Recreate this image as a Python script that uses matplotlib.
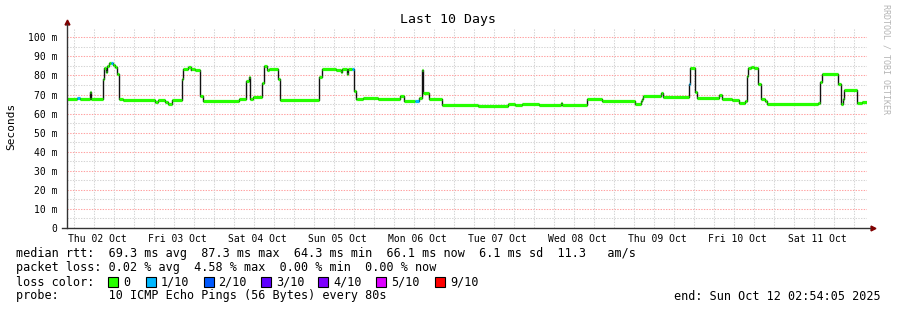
"""
SmokePing style latency chart, last 10 days
"""

from datetime import datetime, timedelta

import numpy as np
import matplotlib
matplotlib.use('Agg')
import matplotlib.pyplot as plt
import matplotlib.dates as mdates
from matplotlib.patches import Rectangle

plt.rcParams['font.family'] = ['DejaVu Sans Mono']

# %% Data

start = datetime(2025, 10, 2, 2, 54, 5)
end = datetime(2025, 10, 12, 2, 54, 5)

# step starts (hours after start) and median rtt (ms)
step_hours = [0, 3.0, 3.9, 6.75, 7.05, 10.71, 11.19, 11.7, 12.0, 12.51, 13.05, 13.71,
              14.31, 15.09, 15.51, 16.8, 26.31, 27.21, 29.4, 30.3, 31.5, 34.5, 34.89,
              36.3, 37.11, 37.29, 38.49, 39.99, 40.71, 51.51, 53.79, 54.51, 54.99, 55.8,
              58.5, 59.19, 59.91, 60.6, 63.39, 63.9, 75.69, 76.41, 80.7, 82.2, 82.59,
              83.91, 84.21, 85.59, 86.19, 86.7, 87.0, 88.89, 93.39, 99.9, 101.19, 104.4,
              105.6, 106.41, 106.89, 108.69, 112.41, 123.39, 132.39, 134.4, 136.41,
              141.6, 148.11, 148.41, 155.91, 160.41, 170.4, 172.11, 172.59, 172.89,
              178.11, 178.71, 186.69, 186.9, 188.4, 188.91, 195.69, 196.41, 199.41,
              201.6, 203.4, 203.91, 204.21, 205.2, 206.19, 207.39, 208.11, 209.4,
              210.09, 225.39, 225.99, 226.59, 231.39, 232.11, 232.71, 233.1, 236.91,
              238.41]
median_ms = [67.4, 68.0, 67.4, 71.4, 67.4, 78.4, 84.1, 81.8, 84.8, 86.7, 86.8, 85.5,
             84.3, 80.6, 67.9, 67.0, 66.0, 67.0, 66.2, 64.9, 67.0, 77.9, 83.6,
             84.5, 83.0, 83.6, 82.7, 69.1, 66.7, 67.5, 77.0, 79.2, 67.9, 68.8,
             76.1, 84.8, 83.0, 83.6, 78.4, 67.0, 79.2, 83.2, 82.7, 81.8, 83.2,
             81.0, 83.2, 83.2, 71.9, 67.4, 67.7, 68.2, 67.5, 69.3, 66.7, 66.7,
             68.0, 82.7, 70.8, 67.4, 64.7, 64.2, 65.3, 64.4, 65.3,
             64.4, 65.5, 64.4, 67.4, 66.5, 65.3, 66.5, 67.9, 69.3,
             71.0, 68.7, 75.7, 84.1, 71.4, 68.4, 69.5, 67.5, 67.0,
             65.8, 66.7, 79.6, 83.9, 84.5, 83.9, 75.7, 67.5, 66.7,
             65.3, 65.8, 76.6, 81.0, 75.7, 64.9, 67.9, 72.3, 65.6,
             66.1]
# packet loss per step, in tenths
loss_tenths = [0] * len(step_hours)
for h in [3.0, 13.05, 85.59, 104.4, 186.69]:
    loss_tenths[step_hours.index(h)] = 1

loss_labels = ['0', '1/10', '2/10', '3/10', '4/10', '5/10', '9/10']
loss_levels = [0, 1, 2, 3, 4, 5, 9]
loss_colors = ['#26ff00', '#00b8ff', '#0059ff', '#5e00ff', '#7e00ff', '#dd00ff', '#ff0000']

stats_rtt = "median rtt:  69.3 ms avg  87.3 ms max  64.3 ms min  66.1 ms now  6.1 ms sd  11.3   am/s"
stats_loss = "packet loss: 0.02 % avg  4.58 % max  0.00 % min  0.00 % now"
probe_text = "probe:       10 ICMP Echo Pings (56 Bytes) every 80s"
end_text = "end: Sun Oct 12 02:54:05 2025"

# %% Plot

W, H = 897, 310
fig = plt.figure(figsize=(W / 100, H / 100), dpi=100)
fig.patch.set_facecolor('white')
ax = fig.add_axes([67 / W, 82 / H, 800 / W, 200 / H])
ymax = 104.9
ax.set_xlim(mdates.date2num(start), mdates.date2num(end))
ax.set_ylim(0, ymax)

t = [start + timedelta(hours=h) for h in step_hours]
t_end = t[1:] + [end]

# grid
for v in np.arange(5, ymax, 5):
    major = abs(v % 10) < 1e-6
    ax.axhline(v, color='#ffa0a0' if major else '#d4d4d4', lw=0.75,
               dashes=(1.3, 1.3), zorder=1)
hh = start.replace(minute=0, second=0) + timedelta(hours=3)
while hh < end:
    major = hh.hour == 0
    ax.axvline(hh, color='#ffa0a0' if major else '#d4d4d4', lw=0.75,
               dashes=(1.3, 1.3), zorder=1)
    hh += timedelta(hours=6)

# median line: black step with loss coloured levels
ax.step(t + [end], median_ms + [median_ms[-1]], where='post', color='#111111',
        lw=1.0, zorder=3)
seg_colors = [loss_colors[loss_levels.index(l)] for l in loss_tenths]
ax.hlines(median_ms, t, t_end, colors=seg_colors, lw=2.3, zorder=4)

# axes
for s in ax.spines.values():
    s.set_visible(False)
ax.plot([-5 / 800, 1.004], [0, 0], transform=ax.transAxes, color='#333333',
        lw=1.0, clip_on=False, zorder=5)
ax.plot([0, 0], [0, 1.02], transform=ax.transAxes, color='#333333',
        lw=1.0, clip_on=False, zorder=5)
ax.plot([1.007], [0], transform=ax.transAxes, marker='>', color='#800000',
        ms=3.5, clip_on=False)
ax.plot([0], [1.03], transform=ax.transAxes, marker='^', color='#800000',
        ms=3.5, clip_on=False)

ax.set_yticks(np.arange(0, 101, 10))
ax.set_yticklabels(['0'] + ['%d m' % v for v in range(10, 101, 10)])
noons = [datetime(2025, 10, d, 12) for d in range(2, 12)]
ax.set_xticks(noons)
ax.xaxis.set_major_formatter(mdates.DateFormatter('%a %d %b'))
ax.tick_params(length=0, labelsize=7, colors='black')
ax.tick_params(axis='y', pad=7)
ax.tick_params(axis='x', pad=4)

# titles
fig.text(448 / W, 1 - 19 / H, 'Last 10 Days', ha='center', va='center', fontsize=9.5)
fig.text(11 / W, 1 - 126 / H, 'Seconds', rotation=90, ha='center', va='center',
         fontsize=8)
fig.text(886 / W, 1 - 59 / H, 'RRDTOOL / TOBI OETIKER', rotation=270, ha='center',
         va='center', fontsize=6, color='#b4b4b4')

# legend
fs = 8.5
fig.text(16 / W, 1 - 254 / H, stats_rtt, va='center', fontsize=fs)
fig.text(16 / W, 1 - 268 / H, stats_loss, va='center', fontsize=fs)
fig.text(16 / W, 1 - 282 / H, 'loss color:', va='center', fontsize=fs)
box_x = [108, 146, 203.5, 261, 318, 376, 435]
for bx, c, lab in zip(box_x, loss_colors, loss_labels):
    fig.patches.append(Rectangle((bx / W, 1 - 287 / H), 10 / W, 10 / H,
                                 transform=fig.transFigure, facecolor=c,
                                 edgecolor='black', lw=0.8))
    fig.text((bx + 15) / W, 1 - 282 / H, lab, va='center', fontsize=fs)
fig.text(16 / W, 1 - 296 / H, probe_text, va='center', fontsize=fs)
fig.text(881 / W, 1 - 296 / H, end_text, va='center', ha='right', fontsize=fs)

plt.savefig('out.png', dpi=100)
